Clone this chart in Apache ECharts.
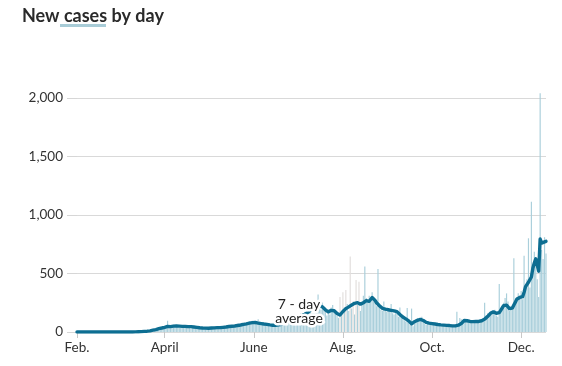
<!DOCTYPE html>
<html><head><meta charset="utf-8">
<script src="https://cdn.jsdelivr.net/npm/echarts@6/dist/echarts.min.js"></script>
<style>html,body{margin:0;padding:0;background:#fff}#c{width:562px;height:366px}</style>
</head><body><div id="c"></div>
<script>
// Daily new cases (bars) per month, 2020
const casesFeb = [0,0,0,0,0,0,0,0,0,0, 0,0,0,0,0,0,0,0,0,0, 0,0,0,0,0,0,0,0,0];
const casesMar = [0,0,0,0,0,1,0,0,1, 1,2,1,3,4,6,5,8,10,9,14, 12,18,22,25,19,30,34,28,36,41,45];
const casesApr = [52,48,97,40,33,55,62,49,44,51, 38,35,58,47,53,41,46,39,30,52, 44,37,41,28,25,36,30,34,27,29];
const casesMay = [31,40,26,38,45,33,42,36,30,48, 52,44,39,55,60,47,41,58,49,62, 70,55,48,78,66,59,85,74,92,88,97];
const casesJun = [84,72,65,110,90,58,62,70,55,68, 60,48,52,65,58,44,63,75,80,66, 82,91,70,104,95,112,88,120,130,118];
const casesJul = [140,125,160,150,132,170,185,160,210,195, 230,180,250,205,320,240,190,260,210,175, 140,165,150,210,230,195,170,140,120,300,180];
const casesAug = [340,210,360,240,180,645,200,260,150,445, 230,430,180,250,310,560,290,260,310,280, 340,290,260,220,538,230,190,180,260,210,170];
const casesSep = [200,180,240,160,150,190,170,130,210,150, 120,100,90,205,80,60,200,50,70,110, 120,90,105,130,80,70,60,95,75,65];
const casesOct = [70,80,55,60,65,72,50,58,62,45, 48,55,40,60,52,45,50,174,65,120, 110,95,100,85,105,90,80,95,88,100,92];
const casesNov = [85,95,110,90,120,251,140,160,150,175, 180,165,190,140,130,410,200,220,250,290, 330,260,180,210,190,630,240,300,331,290];
const casesDec = [350,280,652,400,450,801,380,1114,500,686, 600,450,300,2040,700,624,810,672];

// 7-day average (line) per month
const avgFeb = [0,0,0,0,0,0,0,0,0,0, 0,0,0,0,0,0,0,0,0,0, 0,0,0,0,0,0,0,0,0];
const avgMar = [0,0,0,0,0,0,0,0,0, 0,1,1,1,2,3,3,4,5,6,7, 8,10,13,16,18,21,25,29,31,34,37];
const avgApr = [40,42,48,47,46,48,50,51,52,50, 50,49,48,47,48,47,46,45,46,45, 43,42,40,38,36,35,34,33,33,32];
const avgMay = [32,33,34,33,35,36,37,36,37,38, 40,42,43,45,47,48,49,50,51,53, 56,58,60,63,65,67,70,73,76,78,80];
const avgJun = [82,81,78,76,74,72,70,68,66,65, 63,61,59,58,57,58,59,61,63,66, 72,76,80,84,88,93,98,103,108,113];
const avgJul = [120,127,134,140,146,152,160,168,178,188, 196,203,210,214,220,224,222,215,205,190, 176,172,178,185,190,182,170,158,148,145,160];
const avgAug = [175,190,200,205,215,225,231,238,245,250, 251,245,238,240,250,262,268,270,262,275, 295,288,270,250,240,225,212,202,198,195,192];
const avgSep = [190,188,185,182,180,177,174,165,150,138, 128,120,112,105,95,85,70,75,88,95, 100,105,108,106,98,88,82,78,76,74];
const avgOct = [72,70,68,66,64,62,61,60,59,58, 57,56,55,54,52,51,52,55,58,62, 72,85,98,100,96,92,90,88,89,90,90];
const avgNov = [90,90,92,96,103,110,120,132,145,160, 168,172,170,160,150,165,185,205,225,239, 230,215,200,195,205,230,255,280,290,295];
const avgDec = [300,302,340,388,405,425,440,470,545,590, 625,640,520,795,760,760,770,775];

// Days shown in gray
const grayDates = ['07-30','08-01','08-03','08-06','08-08','08-10','08-12'];

// Axis tick labels
const xTickLabels = {'02-01':'Feb.','04-01':'April','06-01':'June','08-01':'Aug.','10-01':'Oct.','12-01':'Dec.'};
const yTicks = [0, 500, 1000, 1500, 2000];

const monthKeys = ['02','03','04','05','06','07','08','09','10','11','12'];
const monthCases = [casesFeb,casesMar,casesApr,casesMay,casesJun,casesJul,casesAug,casesSep,casesOct,casesNov,casesDec];
const monthAvg = [avgFeb,avgMar,avgApr,avgMay,avgJun,avgJul,avgAug,avgSep,avgOct,avgNov,avgDec];

const dates = [], cases = [], avg = [];
monthKeys.forEach((m, mi) => {
  monthCases[mi].forEach((v, i) => {
    dates.push(m + '-' + String(i + 1).padStart(2, '0'));
    cases.push(v);
    avg.push(monthAvg[mi][i]);
  });
});

const FONT = 'Lato, "Noto Sans", sans-serif';
const isTick = (idx, val) => xTickLabels.hasOwnProperty(val);

const chart = echarts.init(document.getElementById('c'), null, {renderer: 'canvas'});
chart.setOption({
  animation: false,
  backgroundColor: '#fff',
  title: {
    text: 'New cases by day',
    left: 17, top: 2,
    textStyle: {fontFamily: FONT, fontWeight: 'bold', fontSize: 18, color: '#2a2a2a'}
  },
  grid: {left: 77, right: 16, top: 98, bottom: 34, containLabel: false},
  xAxis: {
    type: 'category',
    data: dates,
    boundaryGap: false,
    axisLine: {show: false},
    axisTick: {show: true, interval: isTick, length: 6, lineStyle: {color: '#c8c8c8'}},
    axisLabel: {interval: isTick, formatter: v => xTickLabels[v] || '', color: '#333', fontFamily: FONT, fontSize: 13.5, margin: 9},
    splitLine: {show: false}
  },
  yAxis: {
    type: 'value',
    min: yTicks[0], max: yTicks[yTicks.length - 1], interval: yTicks[1] - yTicks[0],
    axisLine: {show: false},
    axisTick: {show: true, length: 10, lineStyle: {color: '#d6d6d6'}},
    axisLabel: {margin: 14, color: '#333', fontFamily: FONT, fontSize: 13.5,
      formatter: v => String(v).replace(/\B(?=(\d{3})+(?!\d))/g, ',')},
    splitLine: {lineStyle: {color: '#d9d9d9', width: 1}}
  },
  series: [
    {
      type: 'bar',
      data: cases,
      barWidth: '80%',
      clip: false,
      z: 1,
      itemStyle: {color: p => grayDates.includes(dates[p.dataIndex]) ? '#e2dedc' : '#aacfdb'}
    },
    {
      type: 'line',
      data: avg,
      showSymbol: false,
      symbol: 'none',
      z: 3,
      lineStyle: {width: 3.4, color: '#0d6e92', join: 'round', cap: 'round'}
    }
  ],
  graphic: [
    {type: 'rect', z: 100, shape: {x: 60, y: 24, width: 46, height: 3}, style: {fill: '#a8ccd7'}},
    {type: 'text', z: 100, x: 299, y: 304, style: {text: '7 - day', font: '14px ' + FONT, fill: '#fff', stroke: '#fff', lineWidth: 5, textAlign: 'center', textVerticalAlign: 'middle'}},
    {type: 'text', z: 100, x: 299, y: 318, style: {text: 'average', font: '14px ' + FONT, fill: '#fff', stroke: '#fff', lineWidth: 5, textAlign: 'center', textVerticalAlign: 'middle'}},
    {type: 'text', z: 101, x: 299, y: 304, style: {text: '7 - day', font: '14px ' + FONT, fill: '#222', textAlign: 'center', textVerticalAlign: 'middle'}},
    {type: 'text', z: 101, x: 299, y: 318, style: {text: 'average', font: '14px ' + FONT, fill: '#222', textAlign: 'center', textVerticalAlign: 'middle'}}
  ]
});
</script></body></html>
